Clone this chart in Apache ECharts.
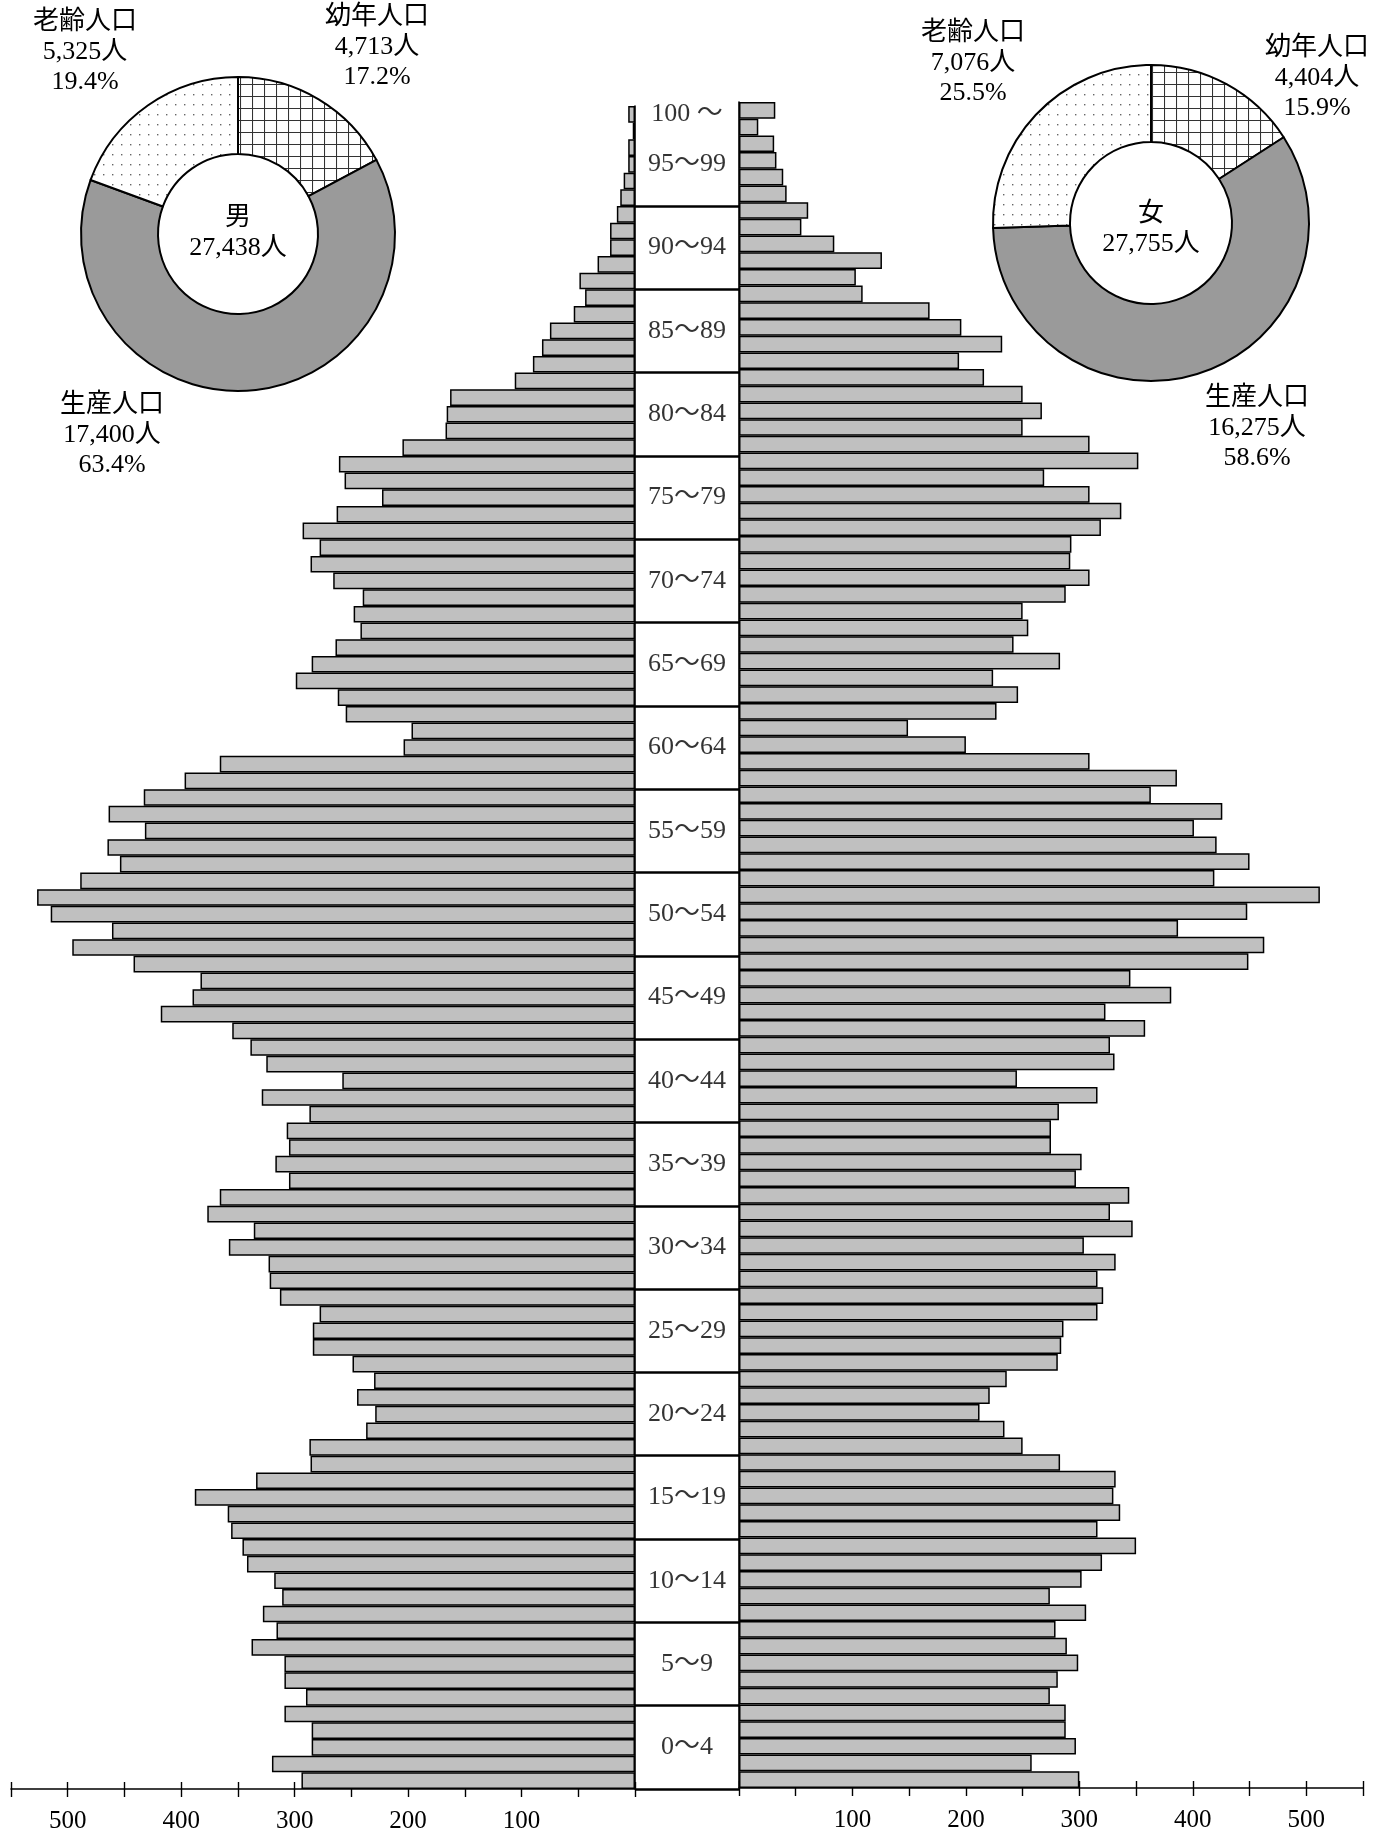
<!DOCTYPE html>
<html>
<head>
<meta charset="utf-8">
<script src="https://cdn.jsdelivr.net/npm/echarts@6/dist/echarts.min.js"></script>
<style>
html,body{margin:0;padding:0;background:#fff;}
#c{width:1386px;height:1834px;}
</style>
</head>
<body>
<div id="c"></div>
<script>
// ---- data ----
const ages = Array.from({length: 101}, (_, i) => String(i));
const male = [
  294,320,285,285,309, 290,309,309,338,316, 328,311,318,342,346,
  356,359,388,334,286, 287,237,229,245,230, 249,284,284,278,313,
  322,323,358,336,377, 366,305,317,305,307, 287,329,258,325,339,
  355,418,390,383,442, 496,461,515,527,489, 454,465,432,464,433,
  397,366,204,197,255, 262,299,285,264,242, 248,240,266,286,278,
  293,263,223,256,261, 205,167,166,163,106, 90,82,75,54,44,
  49,33,22,22,16, 13,10,6,6,2, 6
];
const female = [
  300,258,297,288,288, 274,281,299,289,279, 306,274,302,320,350,
  316,336,330,332,283, 250,234,212,221,236, 281,284,286,316,321,
  316,332,304,347,327, 344,297,302,275,275, 282,316,245,331,327,
  358,323,381,345,449, 463,387,448,512,419, 450,421,401,426,363,
  386,309,200,149,227, 246,224,283,242,255, 250,288,309,292,293,
  319,337,309,269,352, 309,250,267,250,216, 194,232,196,168,109,
  103,126,84,55,61, 42,39,33,31,17, 32
];
const groupLabels = ['0～4','5～9','10～14','15～19','20～24','25～29','30～34','35～39',
  '40～44','45～49','50～54','55～59','60～64','65～69','70～74','75～79','80～84',
  '85～89','90～94','95～99','100 ～'];
const groupSize = 5;
const pieNames = ['幼年人口','生産人口','老齢人口'];
const malePie = [4713, 17400, 5325];
const femalePie = [4404, 16275, 7076];
const maleLabel = '男';
const femaleLabel = '女';
const maleTotal = 27438;
const femaleTotal = 27755;
const tickLabels = [100, 200, 300, 400, 500];

// ---- styles ----
const FONT = "'Liberation Serif','Noto Sans CJK JP',serif";
function gridPattern() {
  const c = document.createElement('canvas'); c.width = 12; c.height = 12;
  const g = c.getContext('2d');
  g.fillStyle = '#fff'; g.fillRect(0, 0, 12, 12);
  g.strokeStyle = '#333'; g.lineWidth = 1.1;
  g.beginPath(); g.moveTo(0.5, 0); g.lineTo(0.5, 12); g.moveTo(0, 0.5); g.lineTo(12, 0.5); g.stroke();
  return c;
}
function dotPattern() {
  const c = document.createElement('canvas'); c.width = 9; c.height = 10;
  const g = c.getContext('2d');
  g.fillStyle = '#fff'; g.fillRect(0, 0, 9, 10);
  g.fillStyle = '#666'; g.fillRect(4, 4, 1.4, 1.4);
  return c;
}
const pieColors = [
  {image: gridPattern(), repeat: 'repeat'},
  '#9a9a9a',
  {image: dotPattern(), repeat: 'repeat'}
];

const fmt = n => n.toLocaleString('en-US');
const boundaries = groupLabels.slice(0, groupLabels.length - 1).map((_, i) => i * groupSize);
const centerData = groupLabels.map((t, i) => {
  const start = i * groupSize;
  const end = Math.min(start + groupSize, ages.length);
  return {name: t, value: [0.5, (start + end) / 2]};
});

function valueAxis(grid, inverse, inner) {
  return {
    gridIndex: grid, type: 'value', inverse: inverse, min: 0, max: 550, interval: 50,
    position: 'bottom',
    axisLine: {show: !inner, onZero: false, lineStyle: {color: '#000', width: 1.6}},
    axisTick: {show: true, inside: inner, length: inner ? 7 : 8, lineStyle: {color: '#000', width: 1.4}},
    axisLabel: inner ? {show: false} : {
      show: true, margin: 20, fontSize: 25, color: '#000', fontFamily: FONT,
      formatter: v => tickLabels.indexOf(v) >= 0 ? String(v) : ''
    },
    splitLine: {show: false}
  };
}
function catAxis(grid, pos) {
  return {
    gridIndex: grid, type: 'category', data: ages, position: pos,
    axisLine: {show: true, onZero: false, lineStyle: {color: '#000', width: 1.6}},
    axisTick: {show: false}, axisLabel: {show: false}, splitLine: {show: false}
  };
}
const barStyle = {color: '#c0c0c0', borderColor: '#000', borderWidth: 1.5};

function pieSeries(center, radius, values, pos) {
  return {
    type: 'pie', center: center, radius: radius, startAngle: 90, clockwise: true,
    avoidLabelOverlap: false, silent: true,
    itemStyle: {borderColor: '#000', borderWidth: 2},
    data: pieNames.map((n, i) => ({name: n, value: values[i], itemStyle: {color: pieColors[i]}})),
    label: {
      show: true, position: 'outside', color: '#000', fontSize: 26, lineHeight: 30,
      fontFamily: FONT, align: 'center',
      formatter: p => p.name + '\n' + fmt(p.value) + '人\n' + p.percent.toFixed(1) + '%'
    },
    labelLine: {show: false},
    labelLayout: p => ({x: pos[p.dataIndex][0], y: pos[p.dataIndex][1], align: 'center', verticalAlign: 'middle'})
  };
}

const chart = echarts.init(document.getElementById('c'), null, {renderer: 'canvas'});
chart.setOption({
  animation: false,
  backgroundColor: '#fff',
  grid: [
    {left: 11, width: 624, top: 106, height: 1683},
    {left: 739, width: 624, top: 102, height: 1686},
    {left: 635, width: 104, top: 106, height: 1683}
  ],
  xAxis: [
    valueAxis(0, true, false), valueAxis(0, true, true),
    valueAxis(1, false, false), valueAxis(1, false, true),
    {gridIndex: 2, type: 'value', min: 0, max: 1, show: false}
  ],
  yAxis: [
    catAxis(0, 'right'), catAxis(1, 'left'),
    {gridIndex: 2, type: 'value', min: 0, max: ages.length, show: false}
  ],
  graphic: [
    {type: 'text', x: 238, y: 233, silent: true, style: {
      text: maleLabel + '\n' + fmt(maleTotal) + '人', fill: '#000',
      font: '26px ' + FONT, textAlign: 'center', textVerticalAlign: 'middle', lineHeight: 30}},
    {type: 'text', x: 1151, y: 229, silent: true, style: {
      text: femaleLabel + '\n' + fmt(femaleTotal) + '人', fill: '#000',
      font: '26px ' + FONT, textAlign: 'center', textVerticalAlign: 'middle', lineHeight: 30}}
  ],
  series: [
    {type: 'bar', name: '男', xAxisIndex: 0, yAxisIndex: 0, data: male,
     barCategoryGap: '0%', itemStyle: barStyle, silent: true},
    {type: 'bar', name: '女', xAxisIndex: 2, yAxisIndex: 1, data: female,
     barCategoryGap: '0%', itemStyle: barStyle, silent: true},
    {type: 'scatter', xAxisIndex: 4, yAxisIndex: 2, data: centerData, symbolSize: 1,
     itemStyle: {color: 'rgba(0,0,0,0)'}, silent: true,
     label: {show: true, position: 'inside', formatter: '{b}', color: '#000',
             fontSize: 26, fontFamily: FONT},
     markLine: {silent: true, symbol: ['none', 'none'], label: {show: false},
       lineStyle: {color: '#000', width: 2.5, type: 'solid'},
       data: boundaries.map(b => ({yAxis: b}))}},
    pieSeries([238, 234], [80, 157], malePie, [[377, 47], [112, 435], [85, 52]]),
    pieSeries([1151, 223], [81, 158], femalePie, [[1317, 78], [1257, 428], [973, 63]])
  ]
});
</script>
</body>
</html>
